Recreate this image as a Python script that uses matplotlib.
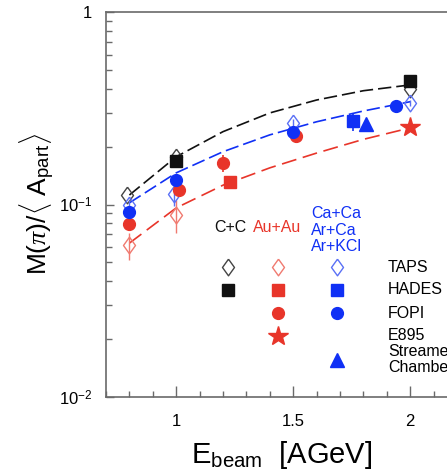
import matplotlib
matplotlib.use("Agg")
import matplotlib.pyplot as plt
import numpy as np

plt.rcParams['font.family'] = ['Liberation Sans', 'DejaVu Sans']
plt.rcParams['mathtext.fontset'] = 'custom'
plt.rcParams['mathtext.rm'] = 'Liberation Sans'
plt.rcParams['mathtext.it'] = 'Liberation Serif:italic'

BLACK = '#111111'
RED = '#e8352a'
BLUE = '#1030f5'
GRAY = '#6a6a6a'

# ---------------- data ----------------
# C+C
cc_taps_x = [0.79, 1.0, 2.0]
cc_taps_y = [0.112, 0.177, 0.398]
cc_hades_x = [1.0, 2.0]
cc_hades_y = [0.168, 0.438]

# Au+Au
au_taps_x = [0.8, 1.0]
au_taps_y = [0.0616, 0.088]
au_taps_lo = [0.0513, 0.0711]
au_taps_hi = [0.0711, 0.106]
au_hades_x = [1.228]
au_hades_y = [0.131]
au_fopi_x = [0.8, 1.01, 1.2, 1.51]
au_fopi_y = [0.079, 0.119, 0.164, 0.228]
au_fopi_lo = [0.074, 0.111, 0.148, 0.21]
au_fopi_hi = [0.084, 0.127, 0.181, 0.245]
au_e895_x = [2.0]
au_e895_y = [0.253]

# Ca+Ca / Ar+Ca / Ar+KCl
ca_taps_x = [0.8, 0.99, 1.5, 2.0]
ca_taps_y = [0.100, 0.114, 0.266, 0.337]
ca_taps_lo = [0.095, 0.098, 0.255, 0.325]
ca_taps_hi = [0.105, 0.130, 0.277, 0.349]
ca_hades_x = [1.755]
ca_hades_y = [0.272]
ca_hades_lo = [0.240]
ca_hades_hi = [0.299]
ca_fopi_x = [0.8, 1.0, 1.5, 1.94]
ca_fopi_y = [0.0914, 0.134, 0.237, 0.325]
ca_fopi_lo = [0.087, 0.128, 0.225, 0.305]
ca_fopi_hi = [0.096, 0.140, 0.249, 0.345]
ca_sc_x = [1.81]
ca_sc_y = [0.262]

# dashed curves
curve_x = [0.8, 1.0, 1.2, 1.4, 1.6, 1.8, 2.0]
curve_cc = [0.112, 0.177, 0.239, 0.299, 0.349, 0.390, 0.418]
curve_ca = [0.102, 0.146, 0.188, 0.230, 0.269, 0.306, 0.342]
curve_au = [0.063, 0.096, 0.126, 0.155, 0.185, 0.218, 0.250]

y_ticks = [0.01, 0.1, 1]
y_ticklabels = [r'$10^{-2}$', r'$10^{-1}$', '1']
x_ticks = [1, 1.5, 2]
x_ticklabels = ['1', '1.5', '2']

# ---------------- figure ----------------
W, H = 447, 474
fig = plt.figure(figsize=(W / 100, H / 100), dpi=100)
ax = fig.add_axes([106 / W, (H - 397) / H, 351 / W, 385 / H])
ax.set_yscale('log')
ax.set_xlim(0.7, 2.2)
ax.set_ylim(0.01, 1)

dash = (8, 3)
ax.plot(curve_x, curve_cc, color=BLACK, lw=1.2, dashes=dash, zorder=2)
ax.plot(curve_x, curve_ca, color=BLUE, lw=1.2, dashes=dash, zorder=2)
ax.plot(curve_x, curve_au, color=RED, lw=1.2, dashes=(9, 4), zorder=2)

diamond = [(0, 1), (0.72, 0), (0, -1), (-0.72, 0), (0, 1)]
DMS = 12
SQ = 8.5
CI = 8.5
ST = 15
TR = 9.5

def err(y, lo, hi):
    return [np.array(y) - np.array(lo), np.array(hi) - np.array(y)]

# open diamonds (TAPS)
ax.plot(cc_taps_x, cc_taps_y, ls='none', marker=diamond, ms=DMS, mfc='none',
        mec='#444444', mew=1.0, zorder=3)
ax.errorbar(au_taps_x, au_taps_y, yerr=err(au_taps_y, au_taps_lo, au_taps_hi),
            ls='none', marker=diamond, ms=DMS, mfc='none', mec='#f07a70', mew=1.0,
            ecolor='#f07a70', elinewidth=1.0, capsize=0, zorder=3)
ax.errorbar(ca_taps_x, ca_taps_y, yerr=err(ca_taps_y, ca_taps_lo, ca_taps_hi),
            ls='none', marker=diamond, ms=DMS, mfc='none', mec='#5a70f5', mew=1.0,
            ecolor='#5a70f5', elinewidth=1.0, capsize=0, zorder=3)

# HADES squares
ax.plot(cc_hades_x, cc_hades_y, ls='none', marker='s', ms=SQ, color=BLACK, zorder=4)
ax.plot(au_hades_x, au_hades_y, ls='none', marker='s', ms=SQ, color=RED, zorder=4)
ax.errorbar(ca_hades_x, ca_hades_y, yerr=err(ca_hades_y, ca_hades_lo, ca_hades_hi),
            ls='none', marker='s', ms=SQ, color=BLUE, elinewidth=1.2, capsize=0, zorder=4)

# FOPI circles
ax.errorbar(au_fopi_x, au_fopi_y, yerr=err(au_fopi_y, au_fopi_lo, au_fopi_hi),
            ls='none', marker='o', ms=CI, color=RED, elinewidth=1.2, capsize=0, zorder=4)
ax.errorbar(ca_fopi_x, ca_fopi_y, yerr=err(ca_fopi_y, ca_fopi_lo, ca_fopi_hi),
            ls='none', marker='o', ms=CI, color=BLUE, elinewidth=1.2, capsize=0, zorder=5)

# E895 star, streamer chamber triangle
ax.plot(au_e895_x, au_e895_y, ls='none', marker='*', ms=ST, color=RED, zorder=4)
ax.plot(ca_sc_x, ca_sc_y, ls='none', marker='^', ms=TR, color=BLUE, zorder=4)

# axes styling
for s in ['left', 'bottom', 'top']:
    ax.spines[s].set_color(GRAY)
    ax.spines[s].set_linewidth(1.2)
ax.spines['right'].set_visible(False)

ax.set_yticks(y_ticks)
ax.set_yticklabels(y_ticklabels)
ax.set_xticks(x_ticks)
ax.set_xticklabels(x_ticklabels)
ax.set_xticks(np.arange(0.7, 2.25, 0.1), minor=True)
ax.tick_params(which='both', direction='in', color=GRAY, top=False, right=False)
ax.tick_params(axis='x', which='major', length=8, width=1.0, labelsize=12, pad=12)
ax.tick_params(axis='x', which='minor', length=4, width=1.0)
ax.tick_params(axis='y', which='major', length=6, width=1.0, labelsize=12, pad=10)
ax.tick_params(axis='y', which='minor', length=4, width=1.0)
ax.yaxis.set_minor_formatter(matplotlib.ticker.NullFormatter())

# axis titles
fig.text(37 / W, 1 - 204 / H, r'M($\pi$)/$\langle$ A$_{\mathrm{part}}$$\rangle$',
         rotation=90, ha='center', va='center', fontsize=19)
fig.text(282 / W, 1 - 455 / H, r'E$_{\mathrm{beam}}$  [AGeV]',
         ha='center', va='center', fontsize=21)

# legend block (drawn manually)
def fx(px):
    return px / W

def fy(py):
    return 1 - py / H

fs = 11.5
fig.text(fx(230), fy(228), 'C+C', color=BLACK, ha='center', va='center', fontsize=fs)
fig.text(fx(277), fy(228), 'Au+Au', color=RED, ha='center', va='center', fontsize=fs)
fig.text(fx(311), fy(214), 'Ca+Ca', color=BLUE, ha='left', va='center', fontsize=fs)
fig.text(fx(311), fy(231), 'Ar+Ca', color=BLUE, ha='left', va='center', fontsize=fs)
fig.text(fx(311), fy(247), 'Ar+KCl', color=BLUE, ha='left', va='center', fontsize=fs)

cols = [228, 278, 337]
rows = {'TAPS': 267, 'HADES': 290, 'FOPI': 313, 'E895': 336, 'SC': 360}

def lm(px, py, **kw):
    fig.add_artist(matplotlib.lines.Line2D([fx(px)], [fy(py)], ls='none',
                                           transform=fig.transFigure, **kw))

lm(cols[0], rows['TAPS'], marker=diamond, ms=DMS, mfc='none', mec='#444444', mew=1.0)
lm(cols[1], rows['TAPS'], marker=diamond, ms=DMS, mfc='none', mec='#f07a70', mew=1.0)
lm(cols[2], rows['TAPS'], marker=diamond, ms=DMS, mfc='none', mec='#5a70f5', mew=1.0)
lm(cols[0], rows['HADES'], marker='s', ms=SQ, color=BLACK)
lm(cols[1], rows['HADES'], marker='s', ms=SQ, color=RED)
lm(cols[2], rows['HADES'], marker='s', ms=SQ, color=BLUE)
lm(cols[1], rows['FOPI'], marker='o', ms=CI, color=RED)
lm(cols[2], rows['FOPI'], marker='o', ms=CI, color=BLUE)
lm(cols[1], rows['E895'], marker='*', ms=ST, color=RED)
lm(cols[2], rows['SC'], marker='^', ms=TR, color=BLUE)

lx = fx(388)
fig.text(lx, fy(267), 'TAPS', ha='left', va='center', fontsize=fs)
fig.text(lx, fy(290), 'HADES', ha='left', va='center', fontsize=fs)
fig.text(lx, fy(313), 'FOPI', ha='left', va='center', fontsize=fs)
fig.text(lx, fy(336), 'E895', ha='left', va='center', fontsize=fs)
fig.text(lx, fy(352), 'Streamer', ha='left', va='center', fontsize=fs)
fig.text(lx, fy(368), 'Chamber', ha='left', va='center', fontsize=fs)

fig.savefig('out.png', dpi=100)
